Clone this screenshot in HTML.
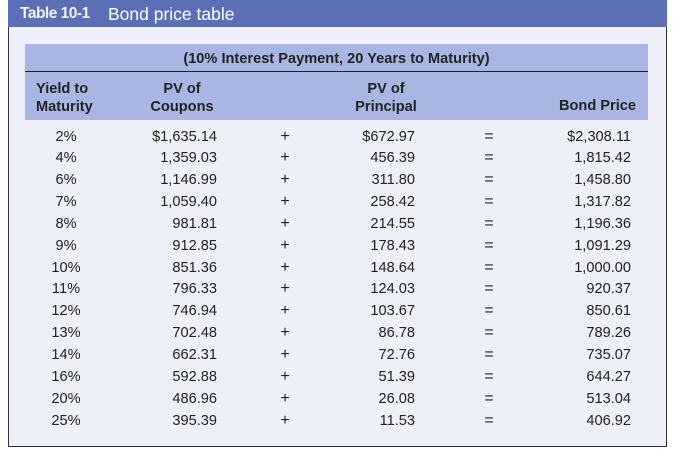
<!DOCTYPE html>
<html><head><style>
body{margin:0;width:674px;height:452px;background:#fff;font-family:"Liberation Sans",Arial,sans-serif;position:relative;overflow:hidden}
.box{position:absolute;left:8px;top:0;width:657px;height:446px;background:#eef0f9;border-left:1.5px solid #333;border-right:1.5px solid #333;border-bottom:1.5px solid #333}
.bar{position:absolute;left:8px;top:0;width:659px;height:27px;background:#5a6fb5;color:#fff;font-size:17.5px;line-height:28px}
.bar b{position:absolute;left:12px;font-size:15.5px;letter-spacing:-0.5px;color:#f2f2fa}
.bar span{position:absolute;left:100px}
.h1{position:absolute;left:25px;top:44px;width:623px;height:27px;background:#a9b6e3;border-bottom:1.5px solid #222}
.h2{position:absolute;left:25px;top:72px;width:623px;height:48px;background:#a9b6e3}
.t{position:absolute;font-size:14.6px;color:#222;white-space:nowrap}
.b{font-weight:bold}
.r{text-align:right}
.c{text-align:center}
</style></head><body>
<div class="box"></div>
<div class="bar"><b>Table 10-1</b><span>Bond price table</span></div>
<div class="h1"></div><div class="h2"></div>
<div class="t b c" style="left:25px;width:623px;top:51px">(10% Interest Payment, 20 Years to Maturity)</div>
<div class="t b" style="left:36px;top:80px;line-height:18px">Yield to<br>Maturity</div>
<div class="t b c" style="left:132px;width:100px;top:80px;line-height:18px">PV of<br>Coupons</div>
<div class="t b c" style="left:336px;width:100px;top:80px;line-height:18px">PV of<br>Principal</div>
<div class="t b r" style="left:536px;width:100px;top:98px">Bond Price</div>
<div id="rows"></div>
<script>
var d=[["2%","$1,635.14","$672.97","$2,308.11"],["4%","1,359.03","456.39","1,815.42"],["6%","1,146.99","311.80","1,458.80"],["7%","1,059.40","258.42","1,317.82"],["8%","981.81","214.55","1,196.36"],["9%","912.85","178.43","1,091.29"],["10%","851.36","148.64","1,000.00"],["11%","796.33","124.03","920.37"],["12%","746.94","103.67","850.61"],["13%","702.48","86.78","789.26"],["14%","662.31","72.76","735.07"],["16%","592.88","51.39","644.27"],["20%","486.96","26.08","513.04"],["25%","395.39","11.53","406.92"]];
var h="";
d.forEach(function(r,i){var y=128.5+i*21.85;
h+='<div class="t c" style="left:36px;width:60px;top:'+y+'px">'+r[0]+'</div>';
h+='<div class="t r" style="left:117px;width:100px;top:'+y+'px">'+r[1]+'</div>';
h+='<div class="t c" style="left:275px;width:20px;top:'+y+'px;font-size:16px;margin-top:-1px;font-weight:300">+</div>';
h+='<div class="t r" style="left:315px;width:100px;top:'+y+'px">'+r[2]+'</div>';
h+='<div class="t c" style="left:479px;width:20px;top:'+y+'px;font-size:16px;margin-top:-1px">=</div>';
h+='<div class="t r" style="left:531px;width:100px;top:'+y+'px">'+r[3]+'</div>';});
document.getElementById("rows").innerHTML=h;
</script>
</body></html>
